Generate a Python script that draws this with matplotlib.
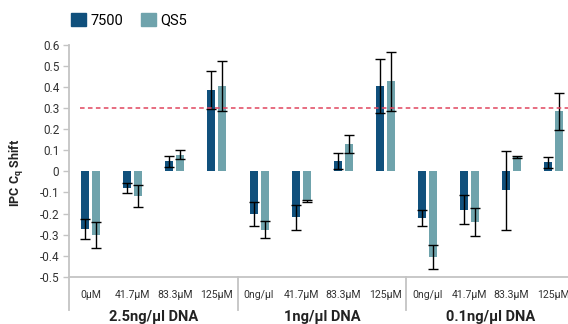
import matplotlib
matplotlib.use('Agg')
import matplotlib.pyplot as plt
import matplotlib.transforms as mtransforms
from matplotlib.lines import Line2D
from matplotlib.patches import Patch
import numpy as np

plt.rcParams['font.family'] = ['Roboto', 'DejaVu Sans']
plt.rcParams['mathtext.fontset'] = 'custom'
plt.rcParams['mathtext.rm'] = 'Roboto'
plt.rcParams['mathtext.bf'] = 'Roboto:bold'

# data
categories = ['0µM', '41.7µM', '83.3µM', '125µM',
              '0ng/µl', '41.7µM', '83.3µM', '125µM',
              '0ng/µl', '41.7µM', '83.3µM', '125µM']
groups = ['2.5ng/µl DNA', '1ng/µl DNA', '0.1ng/µl DNA']
series = ['7500', 'QS5']
v7500 = [-0.275, -0.08, 0.047, 0.385, -0.20, -0.218, 0.049, 0.407, -0.22, -0.181, -0.09, 0.043]
e7500 = [0.047, 0.023, 0.025, 0.09, 0.057, 0.06, 0.037, 0.128, 0.037, 0.07, 0.186, 0.026]
vqs5 = [-0.302, -0.117, 0.080, 0.405, -0.276, -0.14, 0.128, 0.427, -0.406, -0.240, 0.068, 0.286]
eqs5 = [0.063, 0.05, 0.021, 0.12, 0.041, 0.003, 0.043, 0.14, 0.056, 0.068, 0.003, 0.088]
threshold = 0.3

c7500 = '#10507c'
cqs5 = '#6fa3ac'
grey = '#c4c4c4'

fig = plt.figure(figsize=(5.68, 3.24), dpi=100)
W, H = 568, 324
ax = fig.add_axes([69 / W, 1 - 276.7 / H, (W - 69) / W, (276.7 - 45) / H])

x = np.arange(len(categories))
w = 0.19
ekw = dict(elinewidth=1.0, capthick=1.0, ecolor='black')
ax.bar(x - 0.13, v7500, w, color=c7500, yerr=e7500, capsize=3.3, error_kw=ekw)
ax.bar(x + 0.13, vqs5, w, color=cqs5, yerr=eqs5, capsize=3.3, error_kw=ekw)

ax.plot([-0.25, 11.6], [threshold, threshold], color='#e0455e', lw=1.1,
        dashes=(3, 2.2), zorder=5)

ax.set_xlim(-0.515, 11.34)
ax.set_ylim(-0.5, 0.6)
yt = np.round(np.arange(-0.5, 0.61, 0.1), 1)
ax.set_yticks(yt)
ax.set_yticklabels(['0' if v == 0 else f'{v:.1f}' for v in yt])
ax.tick_params(axis='y', length=4.5, width=1, color=grey, pad=2.5,
               labelsize=8.5, labelcolor='#333333')
ax.set_xticks([])
for s in ['top', 'right']:
    ax.spines[s].set_visible(False)
for s in ['left', 'bottom']:
    ax.spines[s].set_color(grey)
    ax.spines[s].set_linewidth(1.3)

trans = mtransforms.blended_transform_factory(ax.transData, fig.transFigure)
for xi, lab in zip(x, categories):
    ax.text(xi, 1 - 295.5 / H, lab, transform=trans, ha='center', va='center',
            fontsize=7.6, color='#333333')
for gi, g in enumerate(groups):
    ax.text(4 * gi + 1.5, 1 - 316.5 / H, g, transform=trans, ha='center',
            va='center', fontsize=10.5, fontweight='bold', color='#222222')
for sx in [-0.515, 3.5, 7.5]:
    ax.add_line(Line2D([sx, sx], [1 - 276.7 / H, 1 - 310 / H], transform=trans,
                       color=grey, lw=1.3, clip_on=False))

fig.text(17 / W, 1 - 172.5 / H, r'IPC C$_\mathbf{q}$ Shift', rotation=90,
         ha='center', va='center', fontsize=9, fontweight='bold', color='#222222')

handles = [Patch(color=c7500), Patch(color=cqs5)]
fig.legend(handles, series, loc='center left', bbox_to_anchor=(71 / W, 1 - 20.5 / H),
           ncol=2, frameon=False, fontsize=10.5, handlelength=1.0, handleheight=1.0,
           handletextpad=0.35, columnspacing=1.2, borderpad=0, borderaxespad=0)

fig.savefig('out.png', dpi=100)
